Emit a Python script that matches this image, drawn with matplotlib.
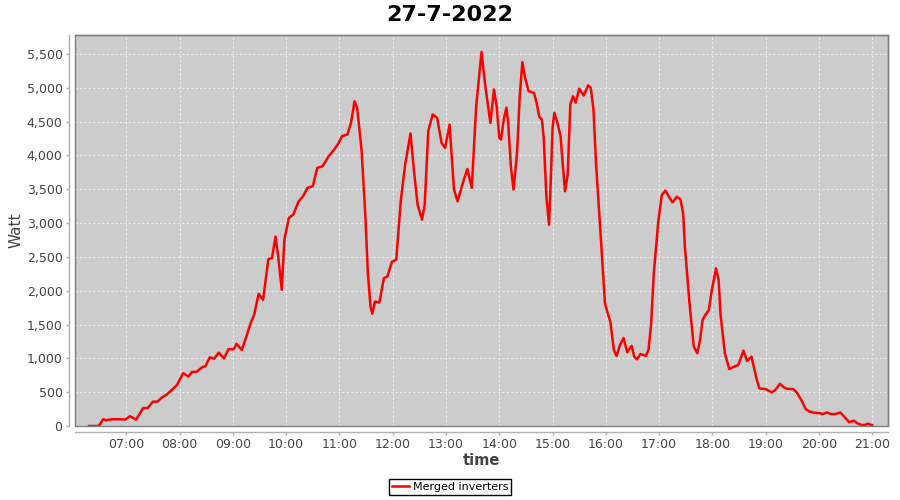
import matplotlib
matplotlib.use("Agg")
import matplotlib.pyplot as plt
from matplotlib.patches import Rectangle

# ── Data ────────────────────────────────────────────────────────────────────
times = [
    "06:18", "06:29", "06:34", "06:37", "06:44", "06:52", "06:59", "07:04", "07:11", "07:19",
    "07:24", "07:30", "07:35", "07:40", "07:45", "07:51", "07:57", "08:04", "08:10", "08:14",
    "08:19", "08:26", "08:29", "08:34", "08:39", "08:44", "08:50", "08:55", "09:01", "09:04",
    "09:10", "09:14", "09:20", "09:24", "09:29", "09:34", "09:40", "09:44", "09:48", "09:51",
    "09:55", "09:58", "10:03", "10:08", "10:14", "10:19", "10:24", "10:30", "10:35", "10:41",
    "10:48", "10:54", "10:58", "11:03", "11:09", "11:13", "11:17", "11:20", "11:25", "11:29",
    "11:32", "11:35", "11:37", "11:40", "11:45", "11:50", "11:54", "11:59", "12:04", "12:09",
    "12:14", "12:20", "12:24", "12:28", "12:33", "12:36", "12:40", "12:45", "12:50", "12:55",
    "12:59", "13:04", "13:09", "13:13", "13:19", "13:24", "13:29", "13:34", "13:40", "13:44",
    "13:50", "13:54", "13:57", "14:00", "14:02", "14:05", "14:08", "14:10", "14:13", "14:16",
    "14:20", "14:23", "14:26", "14:29", "14:33", "14:39", "14:42", "14:45", "14:48", "14:50",
    "14:53", "14:56", "14:58", "15:00", "15:02", "15:05", "15:09", "15:11", "15:14", "15:17",
    "15:20", "15:23", "15:26", "15:30", "15:35", "15:40", "15:43", "15:46", "15:49", "15:54",
    "15:59", "16:02", "16:05", "16:09", "16:12", "16:16", "16:20", "16:24", "16:29", "16:32",
    "16:35", "16:39", "16:45", "16:48", "16:51", "16:54", "16:59", "17:03", "17:07", "17:11",
    "17:15", "17:20", "17:24", "17:27", "17:29", "17:34", "17:39", "17:43", "17:46", "17:49",
    "17:52", "17:56", "17:59", "18:04", "18:07", "18:09", "18:14", "18:19", "18:24", "18:29",
    "18:35", "18:39", "18:44", "18:50", "18:53", "19:00", "19:07", "19:11", "19:16", "19:20",
    "19:24", "19:31", "19:35", "19:40", "19:45", "19:49", "19:55", "20:01", "20:04", "20:09",
    "20:14", "20:18", "20:24", "20:29", "20:34", "20:39", "20:43", "20:48", "20:52", "20:55",
    "21:00",
]
watts = [
    0, 0, 100, 85, 100, 100, 95, 145, 95, 265,
    265, 360, 360, 420, 460, 530, 605, 780, 730, 800,
    800, 875, 880, 1015, 995, 1085, 1000, 1135, 1135, 1215,
    1125, 1275, 1520, 1645, 1955, 1865, 2470, 2480, 2800, 2510,
    2015, 2755, 3075, 3125, 3320, 3395, 3520, 3545, 3815, 3840,
    3990, 4085, 4160, 4285, 4310, 4480, 4800, 4700, 4060, 3150,
    2260, 1765, 1660, 1840, 1825, 2185, 2210, 2425, 2460, 3320,
    3865, 4325, 3765, 3270, 3050, 3270, 4360, 4605, 4555, 4185,
    4110, 4455, 3495, 3320, 3595, 3800, 3520, 4730, 5530, 5050,
    4480, 4975, 4730, 4260, 4235, 4530, 4705, 4480, 3840, 3495,
    4040, 4875, 5380, 5150, 4950, 4925, 4780, 4570, 4530, 4260,
    3395, 2975, 3645, 4410, 4630, 4505, 4285, 3940, 3470, 3715,
    4755, 4875, 4780, 4985, 4885, 5035, 5000, 4680, 3865, 2830,
    1815, 1670, 1545, 1125, 1035, 1200, 1300, 1090, 1185, 1025,
    985, 1065, 1035, 1125, 1520, 2260, 3020, 3415, 3480, 3390,
    3305, 3390, 3350, 3145, 2650, 1840, 1175, 1075, 1270, 1570,
    1640, 1715, 1985, 2330, 2160, 1665, 1075, 840, 875, 900,
    1115, 960, 1025, 680, 555, 545, 495, 535, 625, 575,
    550, 545, 495, 385, 250, 215, 195, 190, 175, 200,
    175, 175, 200, 130, 55, 80, 40, 15, 15, 35,
    10,
]
tick_labels = ["07:00", "08:00", "09:00", "10:00", "11:00", "12:00", "13:00",
               "14:00", "15:00", "16:00", "17:00", "18:00", "19:00", "20:00", "21:00"]
y_ticks = [0, 500, 1000, 1500, 2000, 2500, 3000, 3500, 4000, 4500, 5000, 5500]


def to_hours(s):
    h, m = s.split(":")
    return int(h) + int(m) / 60.0


hours = [to_hours(t) for t in times]
tick_pos = [to_hours(t) for t in tick_labels]

# ── Figure ──────────────────────────────────────────────────────────────────
fig = plt.figure(figsize=(9, 5), dpi=100, facecolor="white")
ax = fig.add_axes([75 / 900, 74 / 500, 813 / 900, 391 / 500])
ax.set_facecolor("#cccccc")

ax.plot(hours, watts, color="#ff0000", lw=1.8, solid_joinstyle="round",
        label="Merged inverters", zorder=3)

ax.set_xlim(6.037, 21.295)
ax.set_ylim(0, 5780)

ax.set_xticks(tick_pos)
ax.set_xticklabels(tick_labels)
ax.set_yticks(y_ticks)
ax.set_yticklabels([f"{v:,}" for v in y_ticks])

ax.grid(True, color="#eeeeee", ls=(0, (2, 2)), lw=0.8, zorder=1)
ax.set_axisbelow(True)

# plot border + offset axis lines (JFreeChart look)
for side in ("top", "right"):
    ax.spines[side].set_color("#808080")
    ax.spines[side].set_linewidth(1)
for side in ("left", "bottom"):
    ax.spines[side].set_position(("outward", 4))
    ax.spines[side].set_color("#b0b0b0")
    ax.spines[side].set_linewidth(1)
ax.add_patch(Rectangle((0, 0), 1, 1, transform=ax.transAxes, fill=False,
                       edgecolor="#808080", lw=1, zorder=4, clip_on=False))

ax.tick_params(axis="both", colors="#b0b0b0", labelcolor="#444444",
               labelsize=9, length=2, width=1, pad=3)

ax.set_ylabel("Watt", fontsize=11, color="#444444", labelpad=2)
ax.set_xlabel("time", fontsize=10.5, fontweight="bold", color="#444444", labelpad=1)
fig.suptitle("27-7-2022", fontsize=16, fontweight="bold", y=0.99)

leg = fig.legend(loc="center", bbox_to_anchor=(450 / 900, 13 / 500), fontsize=8,
                 frameon=True, fancybox=False, edgecolor="black", framealpha=1,
                 handlelength=1.6, handletextpad=0.3, borderpad=0.25, borderaxespad=0)
leg.get_frame().set_linewidth(1)

plt.savefig("out.png", dpi=100)
plt.close()
